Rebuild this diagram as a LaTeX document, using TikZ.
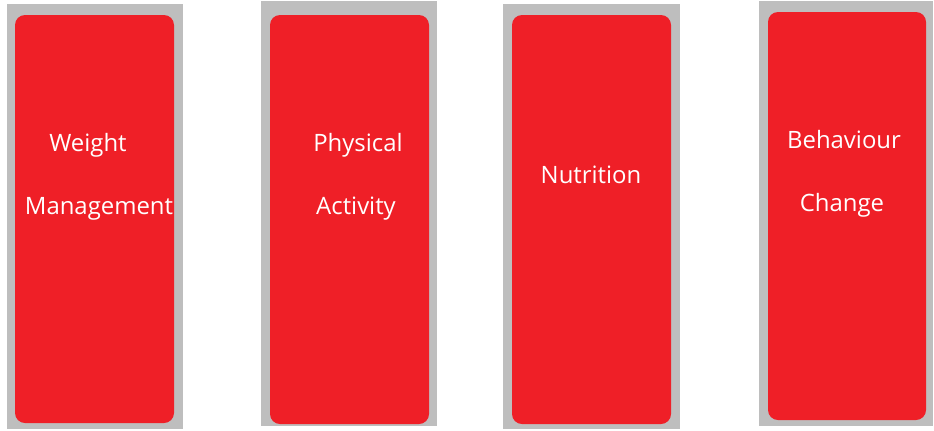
\documentclass[tikz,border=0pt]{standalone}
\usepackage{fontspec}
\setmainfont{Open Sans}
\definecolor{panelgray}{RGB}{190,190,190}
\definecolor{cardred}{RGB}{239,31,39}
\begin{document}
\begin{tikzpicture}[x=1bp,y=-1bp,
  panel/.style={fill=panelgray,draw=none},
  card/.style={fill=cardred,draw=none,rounded corners=10bp},
  label/.style={text=white,anchor=base,inner sep=0pt,font=\fontsize{24}{26}\selectfont}]
\useasboundingbox[fill=white] (0,0) rectangle (934,430);
% Weight Management
\fill[panel] (7,4) rectangle (183,429);
\fill[card] (15,15) rectangle (174,423);
\node[label] (wm1) at (88,151) {Weight};
\node[label] (wm2) at (99,214) {Management};
% Physical Activity
\fill[panel] (261,1) rectangle (437,426);
\fill[card] (270,15) rectangle (429,424);
\node[label] (pa1) at (358,151) {Physical};
\node[label] (pa2) at (356,214) {Activity};
% Nutrition
\fill[panel] (503,4) rectangle (680,429);
\fill[card] (512,15) rectangle (671,424);
\node[label] (nu) at (591,183) {Nutrition};
% Behaviour Change
\fill[panel] (759,1) rectangle (933,426);
\fill[card] (768,12) rectangle (926,420);
\node[label] (bc1) at (844,148) {Behaviour};
\node[label] (bc2) at (842,211) {Change};
\end{tikzpicture}
\end{document}
